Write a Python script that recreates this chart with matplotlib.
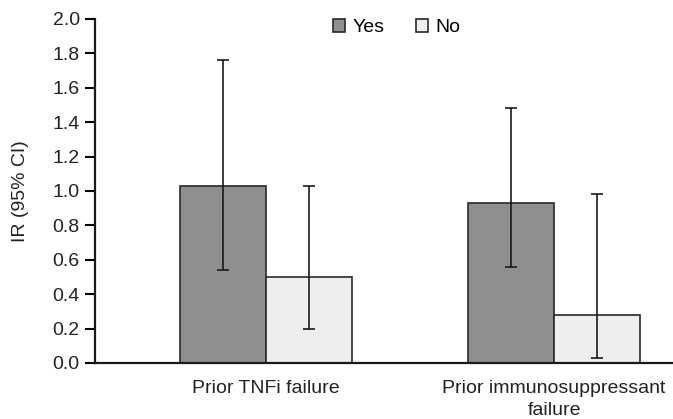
import matplotlib
matplotlib.use("Agg")
import matplotlib.pyplot as plt
import numpy as np

categories = ["Prior TNFi failure", "Prior immunosuppressant\nfailure"]
series = ["Yes", "No"]
yes_vals = [1.03, 0.93]
yes_low = [0.54, 0.56]
yes_high = [1.76, 1.48]
no_vals = [0.50, 0.28]
no_low = [0.20, 0.03]
no_high = [1.03, 0.98]
yticks = [0.0, 0.2, 0.4, 0.6, 0.8, 1.0, 1.2, 1.4, 1.6, 1.8, 2.0]

plt.rcParams['font.family'] = ['Liberation Sans', 'DejaVu Sans']

fig = plt.figure(figsize=(6.73, 4.19), dpi=100)
ax = fig.add_axes([0.1412, 0.1337, 0.8588, 0.821])

x = np.arange(len(categories))
w = 0.3
edge = "#2a2a2a"
FS = 14
for vals, lo, hi, off, col, lab in [
    (yes_vals, yes_low, yes_high, -w/2, "#8f8f8f", series[0]),
    (no_vals, no_low, no_high, w/2, "#eeeeee", series[1]),
]:
    vals = np.array(vals); lo = np.array(lo); hi = np.array(hi)
    ax.bar(x + off, vals, width=w, color=col, edgecolor=edge, linewidth=1.2, label=lab, zorder=2)
    ax.errorbar(x + off, vals, yerr=[vals - lo, hi - vals], fmt='none', ecolor="#1a1a1a",
                elinewidth=1.2, capsize=4, capthick=1.2, zorder=3)

ax.set_xlim(-0.594, 1.413)
ax.set_ylim(0, 2.0)
ax.set_yticks(yticks)
ax.set_yticklabels([f"{t:.1f}" for t in yticks], fontsize=FS, color="#222222")
ax.set_xticks(x)
ax.set_xticklabels(categories, fontsize=FS, color="#222222", linespacing=1.4)
ax.tick_params(axis='x', length=0, pad=12)
ax.tick_params(axis='y', length=7, width=1.5, direction='out', pad=4)
ax.set_ylabel("IR (95% CI)", fontsize=FS, color="#222222", labelpad=17)
for s in ["top", "right"]:
    ax.spines[s].set_visible(False)
for s in ["left", "bottom"]:
    ax.spines[s].set_linewidth(1.6)
    ax.spines[s].set_color("#1a1a1a")
ax.spines["left"].set_zorder(4)

leg = ax.legend(loc="upper center", bbox_to_anchor=(0.522, 1.05), ncol=2, frameon=False,
                fontsize=FS, handlelength=0.62, handleheight=0.62, handletextpad=0.4,
                columnspacing=1.6)
fig.savefig("out.png", dpi=100)
